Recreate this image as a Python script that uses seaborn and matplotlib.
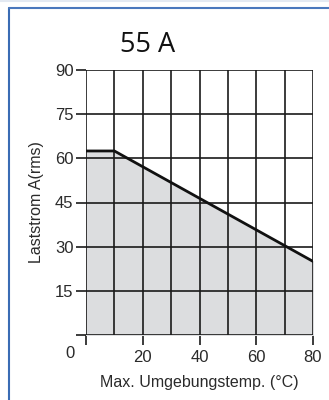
import matplotlib
matplotlib.use('Agg')
import matplotlib.pyplot as plt
import seaborn as sns
import pandas as pd
from matplotlib.lines import Line2D

# derating curve 55 A
temp = [0, 10, 80]
current = [62.5, 62.5, 25]
x_ticks = [0, 20, 40, 60, 80]
y_ticks = [0, 15, 30, 45, 60, 75, 90]

df = pd.DataFrame({'temp': temp, 'current': current})

sns.set_style('white')
plt.rcParams['font.family'] = ['Liberation Sans', 'DejaVu Sans']

fig = plt.figure(figsize=(3.29, 4.0), dpi=100)
ax = fig.add_axes([86 / 329, 1 - 335 / 400, 227 / 329, 265 / 400])

ax.fill_between(df['temp'], df['current'], 0, color='#dcdddf', zorder=1)
sns.lineplot(data=df, x='temp', y='current', color='#111111', linewidth=2.0, ax=ax, zorder=4)

ax.set_xlim(0, 80)
ax.set_ylim(0, 90)
ax.set_xticks(x_ticks)
ax.set_xticklabels([''] + [str(v) for v in x_ticks[1:]])
ax.set_yticks(y_ticks)
ax.set_yticklabels([''] + [str(v) for v in y_ticks[1:]])

# grid: every 10 degC, every 15 A
for v in range(0, 81, 10):
    ax.axvline(v, color='#1a1a1a', linewidth=1.2, zorder=2)
for v in y_ticks:
    ax.axhline(v, color='#1a1a1a', linewidth=1.2, zorder=2)

for s in ax.spines.values():
    s.set_visible(False)

ax.tick_params(axis='both', direction='out', length=7, width=1.2, color='#1a1a1a',
               labelsize=12, labelcolor='#2a2a2a', bottom=True, left=True)
ax.tick_params(axis='x', pad=4)
ax.tick_params(axis='y', pad=2)
ax.set_xlabel('Max. Umgebungstemp. (°C)', fontsize=11.5, color='#2a2a2a', labelpad=7)
ax.set_ylabel('Laststrom A(rms)', fontsize=11.5, color='#2a2a2a', labelpad=8)
ax.text(-0.07, -0.068, '0', transform=ax.transAxes, ha='center', va='center',
        fontsize=12, color='#2a2a2a')

fig.text(148 / 329, 1 - 45 / 400, '55 A', ha='center', va='center',
         fontsize=19.5, color='#111111', family=['Open Sans', 'DejaVu Sans'])

# blue frame
fig.add_artist(Line2D([9 / 329, 9 / 329], [0, 1 - 8 / 400], transform=fig.transFigure,
                      color='#3a6cb4', linewidth=1.5))
fig.add_artist(Line2D([9 / 329, 1], [1 - 8 / 400, 1 - 8 / 400], transform=fig.transFigure,
                      color='#4a78bd', linewidth=1.5))
fig.add_artist(Line2D([0, 1], [1 - 0.5 / 400, 1 - 0.5 / 400], transform=fig.transFigure,
                      color='#e3e9f2', linewidth=1.5))

fig.savefig('out.png', dpi=100)
